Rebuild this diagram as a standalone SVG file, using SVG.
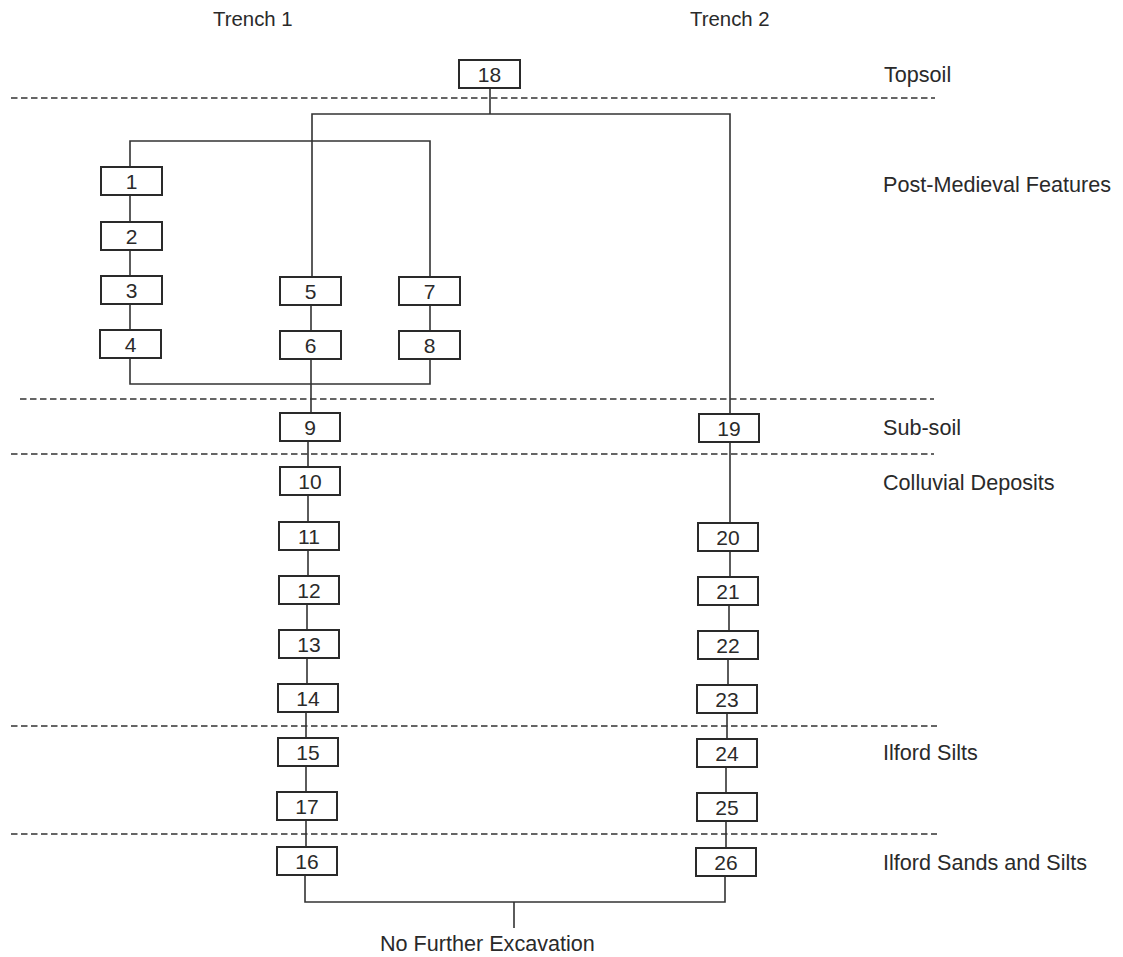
<svg xmlns="http://www.w3.org/2000/svg" width="1123" height="957" viewBox="0 0 1123 957">
<style>
text{font-family:"Liberation Sans",Arial,sans-serif;fill:#2a2a2a}
.lbl{font-size:21.6px}
.hdr{font-size:20.4px}
.num{font-size:21px;text-anchor:middle}
.box rect{fill:#fff;stroke:#2a2a2a;stroke-width:2}
.conn line,.conn polyline{stroke:#333;stroke-width:1.6;fill:none}
.dash line{stroke:#333;stroke-width:1.6;stroke-dasharray:6.5 3.5}
</style>
<rect width="1123" height="957" fill="#fff"/>
<g id="headers">
<text class="hdr" x="213" y="26">Trench 1</text>
<text class="hdr" x="690" y="26">Trench 2</text>
</g>
<g id="layers">
<text class="lbl" x="884" y="82">Topsoil</text>
<text class="lbl" x="883" y="192">Post-Medieval Features</text>
<text class="lbl" x="883" y="435">Sub-soil</text>
<text class="lbl" x="883" y="490">Colluvial Deposits</text>
<text class="lbl" x="883" y="760">Ilford Silts</text>
<text class="lbl" x="883" y="870">Ilford Sands and Silts</text>
</g>
<g class="dash" id="boundaries">
<line x1="11" y1="98" x2="935" y2="98"/>
<line x1="20" y1="399" x2="934" y2="399"/>
<line x1="11" y1="454" x2="934" y2="454"/>
<line x1="11" y1="726" x2="937" y2="726"/>
<line x1="11" y1="834" x2="937" y2="834"/>
</g>
<g class="conn" id="connectors">
<line x1="490" y1="88" x2="490" y2="114"/>
<polyline points="312,277 312,114 730,114 730,414"/>
<polyline points="130,167 130,141 430,141 430,277"/>
<line x1="130" y1="195" x2="130" y2="222"/>
<line x1="130" y1="250" x2="130" y2="276"/>
<line x1="130" y1="304" x2="130" y2="330"/>
<polyline points="130,358 130,384 430,384 430,359"/>
<line x1="311" y1="305" x2="311" y2="331"/>
<line x1="430" y1="305" x2="430" y2="331"/>
<line x1="311" y1="359" x2="311" y2="413"/>
<line x1="308" y1="441" x2="308" y2="467"/>
<line x1="308" y1="495" x2="308" y2="522"/>
<line x1="308" y1="550" x2="308" y2="576"/>
<line x1="307" y1="604" x2="307" y2="630"/>
<line x1="307" y1="658" x2="307" y2="684"/>
<line x1="306" y1="712" x2="306" y2="738"/>
<line x1="306" y1="766" x2="306" y2="792"/>
<line x1="306" y1="820" x2="306" y2="847"/>
<line x1="730" y1="442" x2="730" y2="523"/>
<line x1="730" y1="551" x2="730" y2="577"/>
<line x1="729" y1="605" x2="729" y2="631"/>
<line x1="728" y1="659" x2="728" y2="685"/>
<line x1="727" y1="713" x2="727" y2="739"/>
<line x1="726" y1="767" x2="726" y2="793"/>
<line x1="726" y1="821" x2="726" y2="848"/>
<polyline points="305,875 305,902 725,902 725,876"/>
<line x1="514" y1="902" x2="514" y2="928"/>
</g>
<g class="box" id="n18"><rect x="459" y="60" width="61" height="28"/><text class="num" x="489.5" y="82">18</text></g>
<g class="box" id="n1"><rect x="101" y="167" width="61" height="28"/><text class="num" x="131.5" y="189">1</text></g>
<g class="box" id="n2"><rect x="101" y="222" width="61" height="28"/><text class="num" x="131.5" y="244">2</text></g>
<g class="box" id="n3"><rect x="101" y="276" width="61" height="28"/><text class="num" x="131.5" y="298">3</text></g>
<g class="box" id="n4"><rect x="100" y="330" width="61" height="28"/><text class="num" x="130.5" y="352">4</text></g>
<g class="box" id="n5"><rect x="280" y="277" width="61" height="28"/><text class="num" x="310.5" y="299">5</text></g>
<g class="box" id="n6"><rect x="280" y="331" width="61" height="28"/><text class="num" x="310.5" y="353">6</text></g>
<g class="box" id="n7"><rect x="399" y="277" width="61" height="28"/><text class="num" x="429.5" y="299">7</text></g>
<g class="box" id="n8"><rect x="399" y="331" width="61" height="28"/><text class="num" x="429.5" y="353">8</text></g>
<g class="box" id="n9"><rect x="280" y="413" width="60" height="28"/><text class="num" x="310" y="435">9</text></g>
<g class="box" id="n10"><rect x="280" y="467" width="60" height="28"/><text class="num" x="310" y="489">10</text></g>
<g class="box" id="n11"><rect x="279" y="522" width="60" height="28"/><text class="num" x="309" y="544">11</text></g>
<g class="box" id="n12"><rect x="279" y="576" width="60" height="28"/><text class="num" x="309" y="598">12</text></g>
<g class="box" id="n13"><rect x="279" y="630" width="60" height="28"/><text class="num" x="309" y="652">13</text></g>
<g class="box" id="n14"><rect x="278" y="684" width="60" height="28"/><text class="num" x="308" y="706">14</text></g>
<g class="box" id="n15"><rect x="278" y="738" width="60" height="28"/><text class="num" x="308" y="760">15</text></g>
<g class="box" id="n17"><rect x="277" y="792" width="60" height="28"/><text class="num" x="307" y="814">17</text></g>
<g class="box" id="n16"><rect x="277" y="847" width="60" height="28"/><text class="num" x="307" y="869">16</text></g>
<g class="box" id="n19"><rect x="699" y="414" width="60" height="28"/><text class="num" x="729" y="436">19</text></g>
<g class="box" id="n20"><rect x="698" y="523" width="60" height="28"/><text class="num" x="728" y="545">20</text></g>
<g class="box" id="n21"><rect x="698" y="577" width="60" height="28"/><text class="num" x="728" y="599">21</text></g>
<g class="box" id="n22"><rect x="698" y="631" width="60" height="28"/><text class="num" x="728" y="653">22</text></g>
<g class="box" id="n23"><rect x="697" y="685" width="60" height="28"/><text class="num" x="727" y="707">23</text></g>
<g class="box" id="n24"><rect x="697" y="739" width="60" height="28"/><text class="num" x="727" y="761">24</text></g>
<g class="box" id="n25"><rect x="697" y="793" width="60" height="28"/><text class="num" x="727" y="815">25</text></g>
<g class="box" id="n26"><rect x="696" y="848" width="60" height="28"/><text class="num" x="726" y="870">26</text></g>
<g id="end"><text class="lbl" x="380" y="951">No Further Excavation</text></g>
</svg>
